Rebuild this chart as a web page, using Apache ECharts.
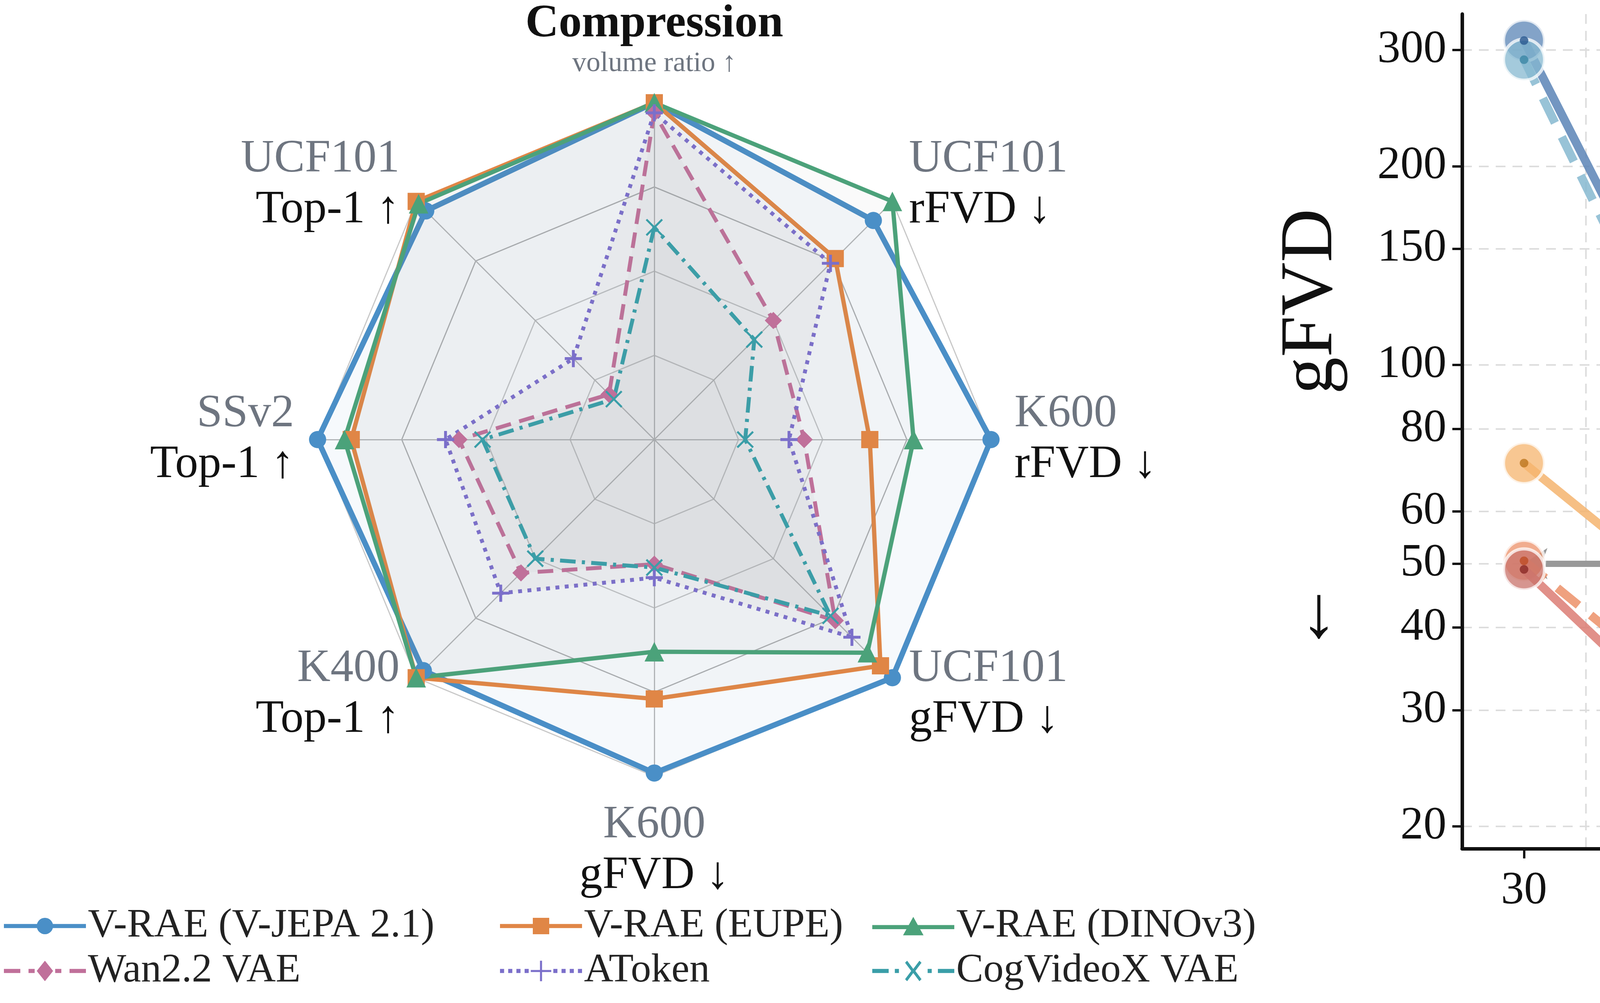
<!DOCTYPE html>
<html>
<head>
<meta charset="utf-8">
<script src="https://cdn.jsdelivr.net/npm/echarts@6/dist/echarts.min.js"></script>
<style>html,body{margin:0;padding:0;background:#fff}#c{width:6967px;height:2567px}</style>
</head>
<body>
<div id="c"></div>
<script>
// Radar axes, listed counter-clockwise from the top (ECharts radar order)
const radarAxes = [
  ['Compression', 'volume ratio ↑'],
  ['UCF101', 'Top-1 ↑'],
  ['SSv2', 'Top-1 ↑'],
  ['K400', 'Top-1 ↑'],
  ['K600', 'gFVD ↓'],
  ['UCF101', 'gFVD ↓'],
  ['K600', 'rFVD ↓'],
  ['UCF101', 'rFVD ↓']
];
const radarNames = ['V-RAE (V-JEPA 2.1)', 'V-RAE (EUPE)', 'V-RAE (DINOv3)', 'Wan2.2 VAE', 'AToken', 'CogVideoX VAE'];
const radarVjepa = [1.0, 0.96, 1.0, 0.97, 0.99, 1.0, 1.0, 0.92];
const radarEupe = [1.0, 1.0, 0.90, 1.0, 0.77, 0.95, 0.64, 0.76];
const radarDino = [1.0, 0.99, 0.92, 1.0, 0.63, 0.895, 0.77, 1.0];
const radarWan = [0.97, 0.19, 0.58, 0.56, 0.37, 0.76, 0.445, 0.50];
const radarAtoken = [0.97, 0.34, 0.62, 0.645, 0.41, 0.83, 0.40, 0.74];
const radarCog = [0.63, 0.17, 0.51, 0.50, 0.38, 0.74, 0.27, 0.42];

// Line chart data
const steps = ['30', '60', '90', '120', '150', '180', '210', '240', '270', '300'];
const yTicks = [20, 30, 40, 50, 60, 80, 100, 150, 200, 300];
const wan22 = [310, 133, 77, 62, 56, 52, 52.5, 53, 55, 56];
const wan21 = [290, 120, 68, 56, 54, 60.5, 54, 61, 65, 63];
const dino = [71, 50, 40.5, 37.5, 36, 36.5, 33, 32.5, 30, 31];
const eupe = [50.5, 35.5, 32, 28.5, 29, 28, 28, 25, 25, 26];
const vjepa = [49, 32.5, 25.5, 25.5, 23.5, 22.5, 22, 20.5, 19.3, 19];

const FONT = 'Liberation Serif';
const chart = echarts.init(document.getElementById('c'));

// legend icons: a line with the marker on it
const BAR = 'M0,9H40V11H0Z';
const radarStyles = [
  { color: '#4a8fc7', symbol: 'circle', type: 'solid', width: 14, area: 'rgba(74,143,199,0.07)',
    icon: 'path://' + BAR + 'M16,10A4,4 0 1,1 24,10A4,4 0 1,1 16,10Z' },
  { color: '#e08646', symbol: 'rect', type: 'solid', width: 11, area: 'rgba(140,140,140,0.06)',
    icon: 'path://' + BAR + 'M16,6H24V14H16Z' },
  { color: '#4ba27a', symbol: 'triangle', type: 'solid', width: 11, area: 'rgba(140,140,140,0.06)',
    icon: 'path://' + BAR + 'M20,5L25,14H15Z' },
  { color: '#c0709a', symbol: 'diamond', type: [40, 22], width: 10, area: 'rgba(140,140,150,0.08)',
    icon: 'path://M0,9H8V11H0ZM12,9H15V11H12ZM25,9H28V11H25ZM32,9H40V11H32ZM20,5L24,10L20,15L16,10Z' },
  { color: '#7b6fca', symbol: 'path://M-1,-6H1V-1H6V1H1V6H-1V1H-6V-1H-1Z', type: [10, 14], width: 10, area: 'rgba(140,140,150,0.08)',
    icon: 'path://M0,9H2V11H0ZM4,9H6V11H4ZM8,9H10V11H8ZM12,9H14V11H12ZM26,9H28V11H26ZM30,9H32V11H30ZM34,9H36V11H34ZM38,9H40V11H38ZM19.5,5H20.5V9.5H25V10.5H20.5V15H19.5V10.5H15V9.5H19.5Z' },
  { color: '#3a9ea8', symbol: 'path://M-5,-6L0,-1L5,-6L6,-5L1,0L6,5L5,6L0,1L-5,6L-6,5L-1,0L-6,-5Z', type: [40, 16, 8, 16], width: 10, area: 'rgba(140,140,150,0.08)',
    icon: 'path://M0,9H8V11H0ZM11,9H13V11H11ZM27,9H29V11H27ZM32,9H40V11H32ZM16,6L17,5L20,9L23,5L24,6L21,10L24,14L23,15L20,11L17,15L16,14L19,10Z' }
];
const radarData = [radarVjepa, radarEupe, radarDino, radarWan, radarAtoken, radarCog];

const lineDefs = [
  { name: 'Wan2.2 VAE', data: wan22, color: '#5a84b6', dot: '#2f5d93', type: 'solid' },
  { name: 'Wan2.1 VAE', data: wan21, color: '#86b8d0', dot: '#3f8aa8', type: [70, 40] },
  { name: 'V-RAE (DINOv3)', data: dino, color: '#f5b46e', dot: '#c07a24', type: 'solid' },
  { name: 'V-RAE (EUPE)', data: eupe, color: '#ec9068', dot: '#c0502a', type: [70, 40] },
  { name: 'V-RAE (V-JEPA2.1)', data: vjepa, color: '#c8716a', dot: '#8e2f2a', type: 'solid' }
];

const series = [];
radarData.forEach((vals, i) => {
  const s = radarStyles[i];
  series.push({
    name: radarNames[i], type: 'radar', radarIndex: 0,
    symbol: s.symbol, symbolSize: s.symbol === 'triangle' ? 50 : 44,
    lineStyle: { color: s.color, width: s.width, type: s.type },
    itemStyle: { color: s.color },
    areaStyle: { color: s.area },
    data: [{ value: vals, name: radarNames[i] }]
  });
});

lineDefs.forEach((d, i) => {
  const s = {
    name: d.name, type: 'line', xAxisIndex: 0, yAxisIndex: 0,
    data: d.data, symbol: 'circle', symbolSize: 105,
    lineStyle: { color: d.color, width: 22, type: d.type, opacity: 0.85 },
    itemStyle: { color: echarts.color.modifyAlpha(d.color, 0.75), borderColor: 'rgba(255,255,255,0.75)', borderWidth: 8 },
    z: 3 + i
  };
  if (i === 0) {
    s.markLine = {
      silent: true, symbol: ['arrow', 'arrow'], symbolSize: [60, 60],
      lineStyle: { color: '#999', width: 16, type: 'solid' },
      label: { show: false },
      data: [[{ coord: ['30', 50] }, { coord: ['180', 50] }]]
    };
    s.markPoint = {
      symbol: 'none',
      label: { show: true, formatter: '6 × faster', fontFamily: FONT, fontWeight: 'bold', fontSize: 118, color: '#111', offset: [100, 0] },
      data: [{ coord: ['60', 56] }]
    };
  }
  series.push(s);
  series.push({
    type: 'scatter', xAxisIndex: 0, yAxisIndex: 0, data: d.data, symbolSize: 22,
    itemStyle: { color: d.dot, opacity: 0.85 }, z: 10, silent: true
  });
});

const legendText = { fontFamily: FONT, fontSize: 104, color: '#222', lineHeight: 110 };
const radarLegend = (idx, left) => ({
  data: idx.map(k => ({ name: radarNames[k], icon: radarStyles[k].icon })),
  orient: 'vertical', left: left, top: 2315, itemGap: 5, padding: 0,
  itemWidth: 210, itemHeight: 55, textStyle: legendText
});

chart.setOption({
  backgroundColor: '#fff',
  radar: {
    center: [1675, 1125], radius: 862, startAngle: 90, splitNumber: 4,
    shape: 'polygon',
    indicator: radarAxes.map(a => ({
      min: 0, max: 1,
      name: a[0] === 'Compression' ? '{h|' + a[0] + '}\n{s|' + a[1] + '}' : '{g|' + a[0] + '}\n{b|' + a[1] + '}'
    })),
    axisName: {
      fontFamily: FONT,
      rich: {
        g: { fontFamily: FONT, fontSize: 118, color: '#6e7580', lineHeight: 130 },
        b: { fontFamily: FONT, fontSize: 118, color: '#111', lineHeight: 130 },
        h: { fontFamily: FONT, fontSize: 118, color: '#111', fontWeight: 'bold', lineHeight: 120 },
        s: { fontFamily: FONT, fontSize: 72, color: '#6e7580', lineHeight: 80 }
      }
    },
    nameGap: 60,
    axisLine: { lineStyle: { color: '#b8b8b8', width: 3 } },
    splitLine: { lineStyle: { color: ['#c8c8c8', '#c8c8c8', '#c8c8c8', '#b0b0b0'], width: 3 } },
    splitArea: { show: true, areaStyle: { color: ['rgba(0,0,0,0)'] } }
  },
  legend: [
    radarLegend([0, 3], 10),
    radarLegend([1, 4], 1280),
    radarLegend([2, 5], 2233),
    {
      data: lineDefs.map(d => d.name), orient: 'vertical', left: 5140, top: 110,
      itemGap: 120, itemWidth: 300, itemHeight: 90,
      padding: [60, 160, 60, 140],
      backgroundColor: '#f5f5f5', borderColor: '#cfcfcf', borderWidth: 6, borderRadius: 24,
      textStyle: { fontFamily: FONT, fontSize: 134, color: '#555' }
    }
  ],
  grid: { left: 3743, right: 54, top: 36, bottom: 343 },
  xAxis: {
    type: 'category', data: steps, boundaryGap: true,
    name: 'Training Steps (k)  →', nameLocation: 'middle', nameGap: 210,
    nameTextStyle: { fontFamily: FONT, fontSize: 180, color: '#111' },
    axisLine: { lineStyle: { color: '#111', width: 9 } },
    axisTick: { show: true, alignWithLabel: true, length: 25, lineStyle: { color: '#111', width: 6 } },
    axisLabel: { fontFamily: FONT, fontSize: 118, color: '#111', margin: 50 },
    splitLine: { show: true, lineStyle: { color: '#ddd', width: 4, type: [25, 18] } }
  },
  yAxis: {
    type: 'log', logBase: 10, min: 18.5, max: 340,
    name: '←          gFVD', nameLocation: 'middle', nameGap: 290, nameRotate: 90,
    nameTextStyle: { fontFamily: FONT, fontSize: 190, color: '#111' },
    axisLine: { show: true, lineStyle: { color: '#111', width: 9 } },
    axisTick: { show: true, length: 25, customValues: yTicks, lineStyle: { color: '#111', width: 6 } },
    axisLabel: { fontFamily: FONT, fontSize: 118, color: '#111', margin: 40, customValues: yTicks, formatter: v => String(Math.round(v)) },
    splitLine: { show: true, lineStyle: { color: '#ddd', width: 4, type: [25, 18] } }
  },
  series: series
});
</script>
</body>
</html>
